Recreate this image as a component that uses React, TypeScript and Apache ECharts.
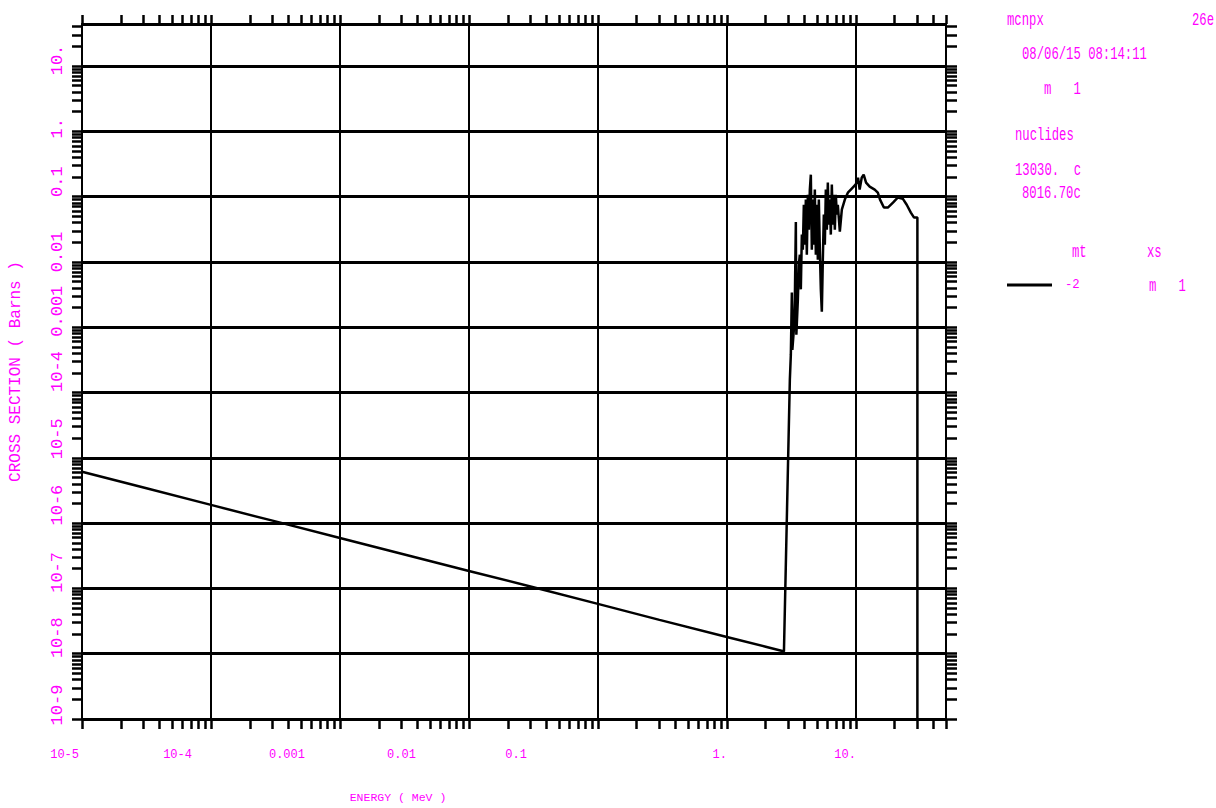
import React, { useEffect, useRef } from "react";
import * as echarts from "echarts";

const MAGENTA = "#ff00ff";
const FONT = "'Liberation Mono', 'DejaVu Sans Mono', monospace";

// ---- axis ranges & tick labels ----
const xMin = 1e-5;
const xMax = 50;
const yMin = 1e-9;
const yMax = 44;
const xTickExponents = [-5, -4, -3, -2, -1, 0, 1];
const xTickLabels = ["10-5", "10-4", "0.001", "0.01", "0.1", "1.", "10."];
const yTickExponents = [-9, -8, -7, -6, -5, -4, -3, -2, -1, 0, 1];
const yTickLabels = ["10-9", "10-8", "10-7", "10-6", "10-5", "10-4", "0.001", "0.01", "0.1", "1.", "10."];
const minorMultipliers = [1, 2, 3, 4, 5, 6, 7, 8, 9];

// ---- data: cross section (barns) vs energy (MeV), mt = -2 ----
const thermalEnergy = [1e-5, 3e-5, 1e-4, 3e-4, 1e-3, 3e-3, 1e-2, 3e-2, 0.1, 0.3, 1, 2, 2.6, 2.77];
const thermalXs = [6.1e-6, 3.5e-6, 1.9e-6, 1.09e-6, 5.9e-7, 3.4e-7, 1.85e-7, 1.07e-7, 5.8e-8, 3.3e-8, 1.8e-8, 1.28e-8, 1.12e-8, 1.08e-8];

const fastEnergy = [
  3.078, 3.133, 3.19, 3.218, 3.306, 3.365, 3.426, 3.457, 3.55, 3.614, 3.679, 3.745, 3.813, 3.881, 3.951,
  4.022, 4.095, 4.168, 4.243, 4.32, 4.398, 4.477, 4.557, 4.639, 4.723, 4.808, 4.895, 4.983, 5.073, 5.164,
  5.257, 5.352, 5.448, 5.546, 5.646, 5.748, 5.851, 5.957, 6.064, 6.173, 6.284, 6.397, 6.513, 6.63, 6.749,
  6.871, 6.995, 7.121, 7.249, 7.513, 7.786, 8.215, 8.67, 9.14, 9.82, 10.2, 10.4, 10.7, 11.1, 11.5, 12.0,
  12.8, 14.0, 14.8, 15.4, 16.5, 17.7, 19.4, 21.2, 23.1, 24.8, 26.7, 28.2, 30.0, 30.0,
];
const fastXs = [
  1.57e-4, 3.8e-4, 3.4e-3, 4.5e-4, 9.2e-4, 2.6e-3, 0.041, 7.7e-4, 2.6e-3, 9.1e-3, 0.0129, 0.0038, 0.0262,
  0.0154, 0.075, 0.0184, 0.09, 0.0129, 0.107, 0.031, 0.128, 0.217, 0.0154, 0.09, 0.0184, 0.128, 0.0129,
  0.075, 0.0108, 0.09, 0.0154, 0.0038, 0.00173, 0.0108, 0.053, 0.0184, 0.128, 0.031, 0.164, 0.0372, 0.09,
  0.0262, 0.153, 0.0372, 0.107, 0.031, 0.107, 0.053, 0.075, 0.029, 0.063, 0.09, 0.115, 0.128, 0.148, 0.164,
  0.195, 0.128, 0.195, 0.217, 0.164, 0.142, 0.128, 0.115, 0.09, 0.068, 0.068, 0.081, 0.097, 0.093, 0.075,
  0.057, 0.048, 0.048, 1e-12,
];

// ---- label styling offsets (px) ----
const xLabelShiftLeft = [3, 19, 35, 53, 71, 0, 0];
const yLabelShiftUp = [14, 16, 16, 18, 19, 21, 16, 10, 15, 3, 6];

function logTicks(minExp: number, maxExp: number, max: number) {
  const out: number[] = [];
  for (let e = minExp; e <= maxExp; e++) {
    for (const m of minorMultipliers) {
      const v = Number((m * Math.pow(10, e)).toPrecision(12));
      if (v <= max * (1 + 1e-9)) out.push(v);
    }
  }
  return out;
}

function expIndex(v: number, exps: number[]) {
  const l = Math.log10(v);
  const r = Math.round(l);
  if (Math.abs(l - r) > 1e-6) return -1;
  return exps.indexOf(r);
}

export default function App() {
  const ref = useRef<HTMLDivElement>(null);
  useEffect(() => {
    if (!ref.current) return;
    const chart = echarts.init(ref.current, undefined, { renderer: "svg" });

    const data: [number, number][] = [];
    thermalEnergy.forEach((e, i) => data.push([e, thermalXs[i]]));
    fastEnergy.forEach((e, i) => data.push([e, fastXs[i]]));

    const xTicks = logTicks(-5, 1, xMax);
    const yTicks = logTicks(-9, 1, yMax);

    const xRich: any = {};
    xLabelShiftLeft.forEach((p, i) => {
      xRich["x" + i] = { color: MAGENTA, fontFamily: FONT, fontSize: 12, padding: [0, p, 0, 0] };
    });
    const yRich: any = {};
    yLabelShiftUp.forEach((p, i) => {
      yRich["y" + i] = { color: MAGENTA, fontFamily: FONT, fontSize: 17, padding: [0, 0, 0, 2 * p] };
    });

    const lineBlack = { color: "#000", width: 2 };
    const tickStyle = { color: "#000", width: 2.5 };
    const hidden = {
      axisLine: { show: false },
      axisTick: { show: false },
      axisLabel: { show: false },
    };

    const txt = (text: string, x: number, y: number, align = "left") => ({
      type: "text",
      x,
      y,
      scaleY: 1.5,
      style: {
        text,
        fill: MAGENTA,
        fontFamily: FONT,
        fontSize: 12.25,
        align,
        verticalAlign: "middle",
      },
    });

    chart.setOption({
      animation: false,
      backgroundColor: "#fff",
      grid: { left: 82, right: 270, top: 24, bottom: 89, containLabel: false },
      legend: {
        left: 1007,
        top: 279,
        padding: 0,
        itemWidth: 45,
        itemHeight: 3,
        icon: "rect",
        data: [{ name: "-2", icon: "rect", itemStyle: { color: "#000" } }],
        textStyle: { color: MAGENTA, fontFamily: FONT, fontSize: 12.25, padding: [0, 0, 12, 8] },
      },
      xAxis: [
        {
          type: "log",
          logBase: 10,
          min: xMin,
          max: xMax,
          interval: 1,
          position: "bottom",
          name: "ENERGY ( MeV )",
          nameLocation: "middle",
          nameGap: 72,
          nameTextStyle: {
            color: MAGENTA,
            fontFamily: FONT,
            fontSize: 11.5,
            verticalAlign: "top",
            padding: [0, 232, 0, 0],
          },
          axisLine: { show: true, lineStyle: lineBlack },
          axisTick: { show: true, inside: false, length: 10, lineStyle: tickStyle, customValues: xTicks },
          splitLine: { show: false },
          axisLabel: {
            show: true,
            margin: 30,
            align: "right",
            color: MAGENTA,
            fontFamily: FONT,
            fontSize: 12,
            rich: xRich,
            formatter: (v: number) => {
              const i = expIndex(v, xTickExponents);
              return i < 0 ? "" : `{x${i}|${xTickLabels[i]}}`;
            },
          },
        },
        {
          type: "log",
          logBase: 10,
          min: xMin,
          max: xMax,
          interval: 1,
          position: "top",
          axisLine: { show: true, lineStyle: lineBlack },
          axisTick: { show: true, inside: false, length: 9, lineStyle: tickStyle, customValues: xTicks },
          splitLine: { show: false },
          axisLabel: { show: false },
        },
        {
          type: "log",
          logBase: 10,
          min: xMin,
          max: xMax,
          interval: 1,
          ...hidden,
          splitLine: { show: true, lineStyle: { color: "#000", width: 2 } },
        },
      ],
      yAxis: [
        {
          type: "log",
          logBase: 10,
          min: yMin,
          max: yMax,
          interval: 1,
          position: "left",
          name: "CROSS SECTION ( Barns )",
          nameLocation: "middle",
          nameGap: 58,
          nameRotate: 90,
          nameTextStyle: { color: MAGENTA, fontFamily: FONT, fontSize: 16 },
          axisLine: { show: true, lineStyle: lineBlack },
          axisTick: { show: true, inside: false, length: 10, lineStyle: tickStyle, customValues: yTicks },
          splitLine: { show: false },
          axisLabel: {
            show: true,
            rotate: 90,
            margin: 16,
            color: MAGENTA,
            fontFamily: FONT,
            fontSize: 17,
            rich: yRich,
            formatter: (v: number) => {
              const i = expIndex(v, yTickExponents);
              return i < 0 ? "" : `{y${i}|${yTickLabels[i]}}`;
            },
          },
        },
        {
          type: "log",
          logBase: 10,
          min: yMin,
          max: yMax,
          interval: 1,
          position: "right",
          axisLine: { show: true, lineStyle: lineBlack },
          axisTick: { show: true, inside: false, length: 11, lineStyle: tickStyle, customValues: yTicks },
          splitLine: { show: false },
          axisLabel: { show: false },
        },
        {
          type: "log",
          logBase: 10,
          min: yMin,
          max: yMax,
          interval: 1,
          ...hidden,
          splitLine: { show: true, lineStyle: { color: "#000", width: 3 } },
        },
      ],
      series: [
        {
          name: "-2",
          type: "line",
          xAxisIndex: 0,
          yAxisIndex: 0,
          data,
          showSymbol: false,
          symbol: "none",
          clip: true,
          lineStyle: { color: "#000", width: 2.5 },
          itemStyle: { color: "#000" },
        },
      ],
      graphic: [
        txt("mcnpx", 1007, 20),
        txt("26e", 1214, 20, "right"),
        txt("08/06/15 08:14:11", 1022, 54),
        txt("m   1", 1044, 89),
        txt("nuclides", 1015, 135),
        txt("13030.  c", 1015, 170),
        txt("8016.70c", 1022, 193),
        txt("mt", 1072, 252),
        txt("xs", 1147, 252),
        txt("m   1", 1149, 286),
      ],
    });

    return () => chart.dispose();
  }, []);

  return (
    <div
      ref={ref}
      style={{ position: "absolute", left: 0, top: 0, width: 1216, height: 808, background: "#fff" }}
    />
  );
}
